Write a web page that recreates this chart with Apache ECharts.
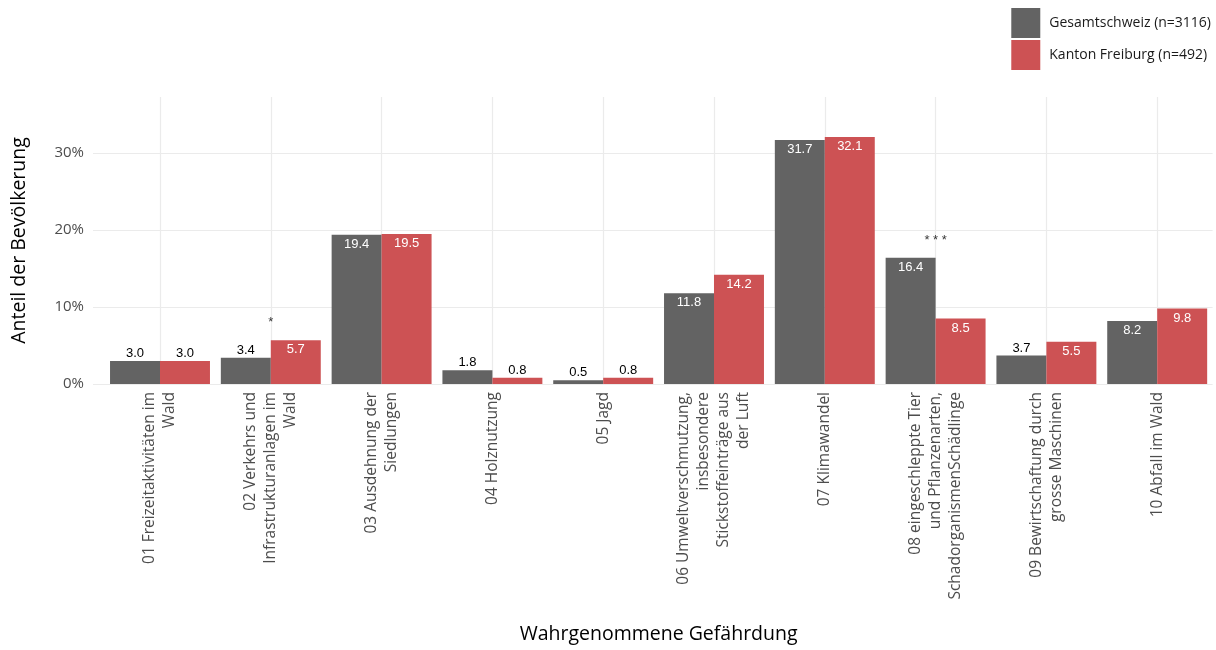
<!DOCTYPE html>
<html>
<head>
<meta charset="utf-8">
<script src="https://cdn.jsdelivr.net/npm/echarts@6/dist/echarts.min.js"></script>
<style>
  html, body { margin: 0; padding: 0; background: #ffffff; }
  #chart { width: 1216px; height: 650px; }
</style>
</head>
<body>
<div id="chart"></div>
<script>
// Perceived threats to the forest: share of the population, Switzerland vs. canton of Fribourg
const categories = [
  '01 Freizeitaktivitäten im\nWald',
  '02 Verkehrs und\nInfrastrukturanlagen im\nWald',
  '03 Ausdehnung der\nSiedlungen',
  '04 Holznutzung',
  '05 Jagd',
  '06 Umweltverschmutzung,\ninsbesondere\nStickstoffeinträge aus\nder Luft',
  '07 Klimawandel',
  '08 eingeschleppte Tier\nund Pflanzenarten,\nSchadorganismenSchädlinge',
  '09 Bewirtschaftung durch\ngrosse Maschinen',
  '10 Abfall im Wald'
];
const seriesNames = ['Gesamtschweiz (n=3116)', 'Kanton Freiburg (n=492)'];
const gesamtschweiz = [3.0, 3.4, 19.4, 1.8, 0.5, 11.8, 31.7, 16.4, 3.7, 8.2];
const freiburg = [3.0, 5.7, 19.5, 0.8, 0.8, 14.2, 32.1, 8.5, 5.5, 9.8];
const significance = ['', '*', '', '', '', '', '', '* * *', '', ''];
const yTicks = [0, 10, 20, 30];

const colors = ['#636363', '#cd5254'];
const insideThreshold = 5;
const yMax = 37.3;

function barData(values) {
  return values.map(v => {
    const inside = v >= insideThreshold;
    return {
      value: v,
      label: inside
        ? { position: 'insideTop', distance: 3, color: '#ffffff' }
        : { position: 'top', distance: 1, color: '#000000' }
    };
  });
}

const starData = categories.map((c, i) => ({
  value: Math.max(gesamtschweiz[i], freiburg[i]),
  mark: significance[i]
}));

const chart = echarts.init(document.getElementById('chart'), null, { renderer: 'canvas' });

const labelFont = { fontFamily: 'Liberation Sans, Arial, sans-serif', fontSize: 13 };
const gridColor = '#ebebeb';

chart.setOption({
  animation: false,
  backgroundColor: '#ffffff',
  color: colors,
  textStyle: { fontFamily: 'Open Sans, sans-serif' },
  legend: {
    orient: 'vertical',
    right: 0,
    top: 3,
    itemWidth: 29,
    itemHeight: 30,
    itemGap: 2,
    icon: 'rect',
    data: seriesNames,
    textStyle: { fontFamily: 'Open Sans, sans-serif', fontSize: 14, color: '#1a1a1a', padding: [0, 0, 0, 4] }
  },
  grid: [
    // bars
    { left: 104.6, right: 3.4, top: 97, bottom: 266, outerBoundsMode: 'none', containLabel: false },
    // full-width panel carrying the horizontal grid lines and the percentage scale
    { left: 93, right: 3.4, top: 97, bottom: 266, outerBoundsMode: 'none', containLabel: false }
  ],
  xAxis: [
    {
      type: 'category',
      gridIndex: 0,
      data: categories,
      name: 'Wahrgenommene Gefährdung',
      nameLocation: 'middle',
      nameGap: 240,
      nameTextStyle: { fontFamily: 'Open Sans, sans-serif', fontSize: 19.5, color: '#000000' },
      axisLine: { show: false },
      axisTick: { show: false },
      axisLabel: {
        rotate: 90,
        margin: 8,
        interval: 0,
        fontFamily: 'Open Sans, sans-serif',
        fontSize: 15.5,
        lineHeight: 20,
        color: '#4d4d4d'
      },
      splitLine: { show: true, alignWithLabel: true, lineStyle: { color: gridColor, width: 1.2 } },
      z: 1
    },
    {
      type: 'value',
      gridIndex: 1,
      min: 0,
      max: 1,
      show: false
    }
  ],
  yAxis: [
    {
      type: 'value',
      gridIndex: 0,
      min: 0,
      max: yMax,
      interval: 10,
      axisLine: { show: false },
      axisTick: { show: false },
      axisLabel: { show: false },
      splitLine: { show: false }
    },
    {
      type: 'value',
      gridIndex: 1,
      min: 0,
      max: yMax,
      interval: 10,
      name: 'Anteil der Bevölkerung',
      nameLocation: 'middle',
      nameGap: 64,
      nameTextStyle: { fontFamily: 'Open Sans, sans-serif', fontSize: 19.5, color: '#000000' },
      axisLine: { show: false },
      axisTick: { show: false },
      axisLabel: {
        margin: 9,
        fontFamily: 'Open Sans, sans-serif',
        fontSize: 15,
        color: '#4d4d4d',
        showMaxLabel: false,
        formatter: v => (yTicks.includes(v) ? v + '%' : '')
      },
      splitLine: { show: true, showMaxLine: false, lineStyle: { color: gridColor, width: 1.2 } },
      z: 0
    }
  ],
  series: [
    {
      name: seriesNames[0],
      type: 'bar',
      barGap: '0%',
      barCategoryGap: '9.8%',
      data: barData(gesamtschweiz),
      label: { show: true, formatter: p => p.value.toFixed(1), ...labelFont },
      z: 3
    },
    {
      name: seriesNames[1],
      type: 'bar',
      barGap: '0%',
      barCategoryGap: '9.8%',
      data: barData(freiburg),
      label: { show: true, formatter: p => p.value.toFixed(1), ...labelFont },
      z: 3
    },
    {
      name: 'Signifikanz',
      type: 'scatter',
      symbolSize: 0,
      silent: true,
      data: starData,
      label: {
        show: true,
        position: 'top',
        distance: 11,
        color: '#000000',
        fontFamily: 'Liberation Sans, Arial, sans-serif',
        fontSize: 13,
        formatter: p => p.data.mark
      },
      z: 5
    }
  ]
});
</script>
</body>
</html>
